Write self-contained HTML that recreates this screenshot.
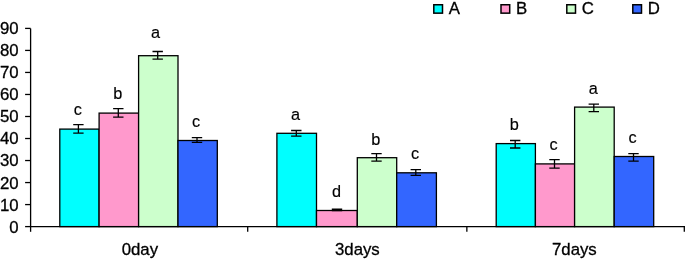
<!DOCTYPE html>
<html><head><meta charset="utf-8"><title>chart</title><style>html,body{margin:0;padding:0;background:#fff}svg{display:block}</style></head><body>
<svg width="685" height="259" viewBox="0 0 685 259">
<rect width="685" height="259" fill="#fff"/>
<g stroke="#000" stroke-width="1.3" fill="none">
<rect x="59.80" y="129.10" width="39.30" height="97.50" fill="#00FFFF"/>
<rect x="99.10" y="113.10" width="39.50" height="113.50" fill="#FF99CC"/>
<rect x="138.60" y="55.70" width="39.40" height="170.90" fill="#CCFFCC"/>
<rect x="178.00" y="140.50" width="39.30" height="86.10" fill="#3366FF"/>
<rect x="276.90" y="133.30" width="39.60" height="93.30" fill="#00FFFF"/>
<rect x="316.50" y="210.50" width="40.80" height="16.10" fill="#FF99CC"/>
<rect x="357.30" y="157.70" width="39.40" height="68.90" fill="#CCFFCC"/>
<rect x="396.70" y="172.80" width="39.70" height="53.80" fill="#3366FF"/>
<rect x="496.20" y="143.60" width="39.20" height="83.00" fill="#00FFFF"/>
<rect x="535.40" y="163.90" width="39.20" height="62.70" fill="#FF99CC"/>
<rect x="574.60" y="107.10" width="39.60" height="119.50" fill="#CCFFCC"/>
<rect x="614.20" y="156.50" width="39.50" height="70.10" fill="#3366FF"/>
<path d="M78.40 124.70V133.20M73.20 124.70H83.60M73.20 133.20H83.60"/>
<path d="M118.30 108.70V117.10M113.10 108.70H123.50M113.10 117.10H123.50"/>
<path d="M157.70 51.50V59.10M152.50 51.50H162.90M152.50 59.10H162.90"/>
<path d="M197.00 137.70V142.30M191.80 137.70H202.20M191.80 142.30H202.20"/>
<path d="M296.30 130.50V136.20M291.10 130.50H301.50M291.10 136.20H301.50"/>
<path d="M337.00 209.10V210.50M331.80 209.10H342.20M331.80 210.50H342.20"/>
<path d="M376.50 153.70V161.10M371.30 153.70H381.70M371.30 161.10H381.70"/>
<path d="M415.80 169.60V175.40M410.60 169.60H421.00M410.60 175.40H421.00"/>
<path d="M515.20 140.50V148.00M510.00 140.50H520.40M510.00 148.00H520.40"/>
<path d="M554.50 159.60V168.20M549.30 159.60H559.70M549.30 168.20H559.70"/>
<path d="M593.80 104.10V111.60M588.60 104.10H599.00M588.60 111.60H599.00"/>
<path d="M633.50 153.70V161.10M628.30 153.70H638.70M628.30 161.10H638.70"/>
<path d="M30.6 28.4V226.6H685"/>
<path d="M25.1 226.60H30.6"/>
<path d="M25.1 204.58H30.6"/>
<path d="M25.1 182.56H30.6"/>
<path d="M25.1 160.53H30.6"/>
<path d="M25.1 138.51H30.6"/>
<path d="M25.1 116.49H30.6"/>
<path d="M25.1 94.47H30.6"/>
<path d="M25.1 72.44H30.6"/>
<path d="M25.1 50.42H30.6"/>
<path d="M25.1 28.40H30.6"/>
<path d="M30.60 226.6V231.79999999999998"/>
<path d="M247.70 226.6V231.79999999999998"/>
<path d="M466.85 226.6V231.79999999999998"/>
<path d="M684.30 226.6V231.79999999999998"/>
</g>
<g stroke="#000" stroke-width="1.5">
<rect x="433.80" y="4.75" width="8.7" height="8.4" fill="#00FFFF"/>
<rect x="501.00" y="4.75" width="8.7" height="8.4" fill="#FF99CC"/>
<rect x="566.80" y="4.75" width="8.7" height="8.4" fill="#CCFFCC"/>
<rect x="632.80" y="4.75" width="8.7" height="8.4" fill="#3366FF"/>
</g>
<g font-family="Liberation Sans, Arial, sans-serif" font-size="16.8" fill="#000" stroke="#000" stroke-width="0.3">
<text x="77.90" y="115.30" text-anchor="middle" font-size="16.3" stroke-width="0.15">c</text>
<text x="117.70" y="99.30" text-anchor="middle" font-size="16.3" stroke-width="0.15">b</text>
<text x="155.60" y="37.80" text-anchor="middle" font-size="16.3" stroke-width="0.15">a</text>
<text x="196.10" y="126.70" text-anchor="middle" font-size="16.3" stroke-width="0.15">c</text>
<text x="295.60" y="119.70" text-anchor="middle" font-size="16.3" stroke-width="0.15">a</text>
<text x="336.60" y="197.30" text-anchor="middle" font-size="16.3" stroke-width="0.15">d</text>
<text x="375.80" y="144.60" text-anchor="middle" font-size="16.3" stroke-width="0.15">b</text>
<text x="415.00" y="158.70" text-anchor="middle" font-size="16.3" stroke-width="0.15">c</text>
<text x="514.30" y="129.70" text-anchor="middle" font-size="16.3" stroke-width="0.15">b</text>
<text x="553.50" y="150.20" text-anchor="middle" font-size="16.3" stroke-width="0.15">c</text>
<text x="593.30" y="93.70" text-anchor="middle" font-size="16.3" stroke-width="0.15">a</text>
<text x="632.50" y="143.30" text-anchor="middle" font-size="16.3" stroke-width="0.15">c</text>
<text x="18.60" y="232.55" text-anchor="end">0</text>
<text x="18.60" y="210.53" text-anchor="end">10</text>
<text x="18.60" y="188.51" text-anchor="end">20</text>
<text x="18.60" y="166.48" text-anchor="end">30</text>
<text x="18.60" y="144.46" text-anchor="end">40</text>
<text x="18.60" y="122.44" text-anchor="end">50</text>
<text x="18.60" y="100.42" text-anchor="end">60</text>
<text x="18.60" y="78.39" text-anchor="end">70</text>
<text x="18.60" y="56.37" text-anchor="end">80</text>
<text x="18.60" y="34.35" text-anchor="end">90</text>
<text x="139.85" y="255.25" text-anchor="middle">0day</text>
<text x="357.38" y="255.25" text-anchor="middle">3days</text>
<text x="574.38" y="255.25" text-anchor="middle">7days</text>
<text x="448.70" y="14.4">A</text>
<text x="515.90" y="14.4">B</text>
<text x="581.70" y="14.4">C</text>
<text x="647.70" y="14.4">D</text>
</g>
</svg>
</body></html>
